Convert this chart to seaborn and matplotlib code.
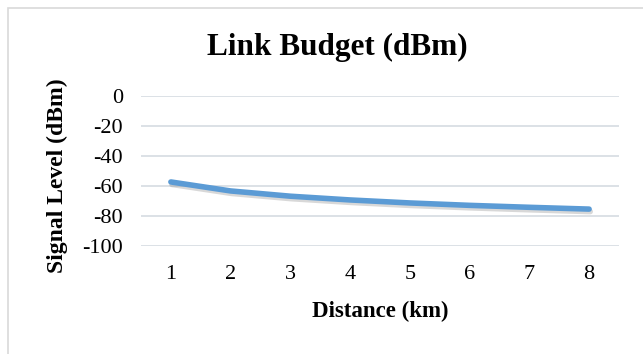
import matplotlib
matplotlib.use("Agg")
import matplotlib.pyplot as plt
import matplotlib.patheffects as pe
from matplotlib.patches import Rectangle
import seaborn as sns
import pandas as pd

# Received signal level versus link distance
distance_km = [1, 2, 3, 4, 5, 6, 7, 8]
signal_dbm = [-57.3, -63.3, -66.8, -69.3, -71.3, -72.9, -74.2, -75.4]
y_ticks = [0, -20, -40, -60, -80, -100]

df = pd.DataFrame({"Distance (km)": distance_km, "Signal Level (dBm)": signal_dbm})

sns.set_theme(style="white")
plt.rcParams["font.family"] = ["Liberation Serif", "DejaVu Serif"]
plt.rcParams["axes.unicode_minus"] = False
plt.rcParams["text.color"] = "black"
plt.rcParams["axes.labelcolor"] = "black"

fig = plt.figure(figsize=(6.43, 3.54), dpi=100)
ax = fig.add_axes([141 / 643, 108 / 354, 478 / 643, 150 / 354])

# Chart frame
fig.patches.append(Rectangle((8 / 643, -0.1), 1.2, 1 - 8 / 354 + 0.1,
                             transform=fig.transFigure, fill=False,
                             edgecolor="#D9D9D9", linewidth=1.2))

sns.lineplot(data=df, x="Distance (km)", y="Signal Level (dBm)", ax=ax,
             color="#5B9BD5", linewidth=4, solid_capstyle="round",
             path_effects=[pe.SimpleLineShadow(offset=(0.8, -1.8), shadow_color="#7F7F7F", alpha=0.3),
                           pe.Normal()])

ax.set_xlim(0.5, 8.5)
ax.set_ylim(-100, 0)
ax.set_yticks(y_ticks)
ax.set_yticklabels([str(t) for t in y_ticks])
ax.set_xticks(distance_km)
ax.set_xticklabels([str(d) for d in distance_km])
ax.yaxis.grid(True, color="#D9DEE4", linewidth=1.3)
ax.set_axisbelow(True)
ax.margins(y=0)
for s in ax.spines.values():
    s.set_visible(False)
ax.tick_params(axis="both", length=0, labelsize=16, colors="black")
ax.tick_params(axis="y", pad=13)
ax.tick_params(axis="x", pad=14)

ax.set_xlabel("Distance (km)", fontsize=16.5, fontweight="bold", labelpad=12)
ax.set_ylabel("Signal Level (dBm)", fontsize=17, fontweight="bold")
ax.yaxis.set_label_coords(-0.153, 0.47)
fig.text(0.524, 0.865, "Link Budget (dBm)", ha="center", va="center",
         fontsize=22.5, fontweight="bold")

fig.savefig("out.png", dpi=100)
